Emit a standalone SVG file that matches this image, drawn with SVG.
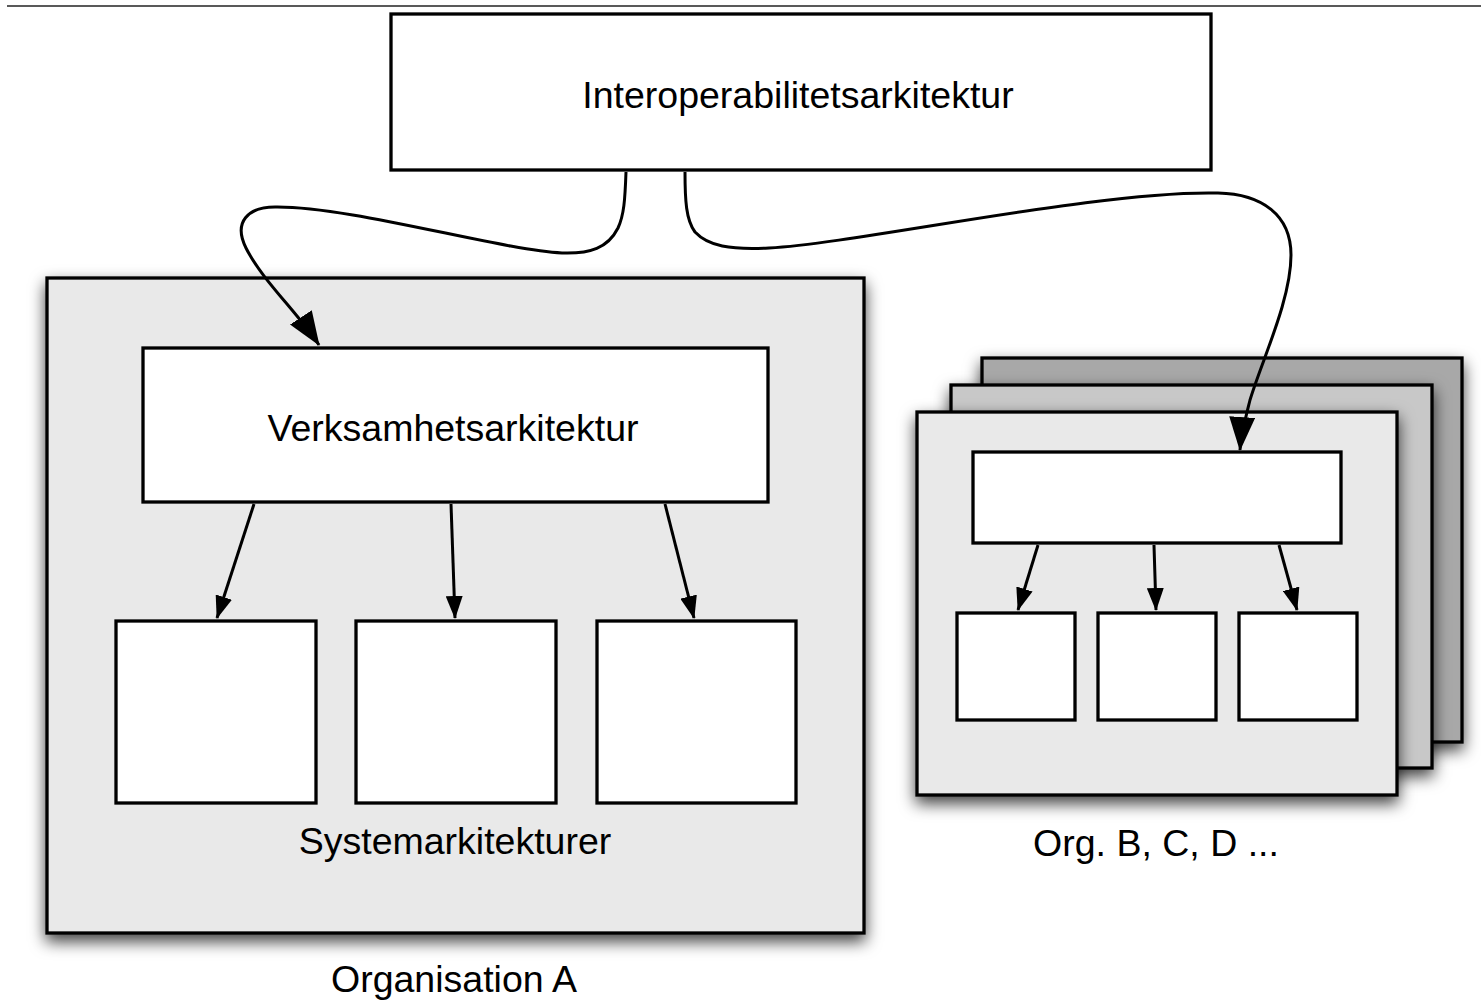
<svg xmlns="http://www.w3.org/2000/svg" width="1481" height="1000" viewBox="0 0 1481 1000">
<style>
.box{stroke:#000;stroke-width:3.3;}
.white{fill:#fff;}
.panel{fill:#e9e9e9;}
.lbl{font-family:"Liberation Sans",Arial,sans-serif;font-size:37.5px;fill:#000;text-anchor:middle;}
.conn{fill:none;stroke:#000;stroke-width:3;}
</style>
<defs>
<filter id="sh" x="-10%" y="-10%" width="125%" height="135%">
<feDropShadow dx="0" dy="7" stdDeviation="8" flood-color="#000" flood-opacity="0.75"/>
</filter>
<marker id="big" viewBox="0 0 34 26" refX="33" refY="13" markerWidth="34" markerHeight="26" markerUnits="userSpaceOnUse" orient="auto">
<path d="M0,0 L34,13 L0,26 z" fill="#000"/>
</marker>
<marker id="sm" viewBox="0 0 23 17" refX="22" refY="8.5" markerWidth="23" markerHeight="17" markerUnits="userSpaceOnUse" orient="auto">
<path d="M0,0 L23,8.5 L0,17 z" fill="#000"/>
</marker>
</defs>
<rect width="1481" height="1000" fill="#fff"/>
<line x1="7" y1="6" x2="1481" y2="6" stroke="#222" stroke-width="1.5"/>

<g id="interop">
<rect class="box white" x="391" y="14" width="820" height="156"/>
<text class="lbl" x="798" y="108">Interoperabilitetsarkitektur</text>
</g>

<g id="orgA">
<rect class="box panel" x="47" y="278" width="817" height="655" filter="url(#sh)"/>
<text class="lbl" x="454" y="992">Organisation A</text>
</g>
<g id="verksamhet">
<rect class="box white" x="143" y="348" width="625" height="154"/>
<text class="lbl" x="453" y="441">Verksamhetsarkitektur</text>
</g>
<g id="sysA1"><rect class="box white" x="116" y="621" width="200" height="182"/></g>
<g id="sysA2"><rect class="box white" x="356" y="621" width="200" height="182"/></g>
<g id="sysA3"><rect class="box white" x="597" y="621" width="199" height="182"/></g>
<g id="systemLabel"><text class="lbl" x="455" y="854">Systemarkitekturer</text></g>

<g id="orgB">
<rect class="box" x="982" y="358" width="480" height="384" fill="#a8a8a8" filter="url(#sh)"/>
<rect class="box" x="951" y="385" width="481" height="383" fill="#c8c8c8" filter="url(#sh)"/>
<rect class="box panel" x="917" y="412" width="480" height="383" filter="url(#sh)"/>
<text class="lbl" x="1156" y="856">Org. B, C, D ...</text>
</g>
<g id="orgB-top"><rect class="box white" x="973" y="452" width="368" height="91"/></g>
<g id="orgB-s1"><rect class="box white" x="957" y="613" width="118" height="107"/></g>
<g id="orgB-s2"><rect class="box white" x="1098" y="613" width="118" height="107"/></g>
<g id="orgB-s3"><rect class="box white" x="1239" y="613" width="118" height="107"/></g>

<g id="connectors">
<path class="conn" marker-end="url(#big)" d="M626,172 C625,200 624,215 618,228 C608,248 590,254 562,253 C500,250 350,206 275,207 C248,207 233,222 246,248 C262,280 298,313 319,345"/>
<path class="conn" marker-end="url(#big)" d="M685,172 C685,200 686,220 695,232 C708,246 730,250 769,248 C860,243 1100,190 1218,193 C1262,194 1291,215 1291,255 C1291,300 1262,360 1250,400 C1245,420 1241,435 1240,450"/>
<line class="conn" marker-end="url(#sm)" x1="254" y1="504" x2="217" y2="618"/>
<line class="conn" marker-end="url(#sm)" x1="451" y1="504" x2="455" y2="618"/>
<line class="conn" marker-end="url(#sm)" x1="665" y1="504" x2="694" y2="618"/>
<line class="conn" marker-end="url(#sm)" x1="1038" y1="545" x2="1018" y2="610"/>
<line class="conn" marker-end="url(#sm)" x1="1154" y1="545" x2="1156" y2="610"/>
<line class="conn" marker-end="url(#sm)" x1="1279" y1="545" x2="1297" y2="610"/>
</g>
</svg>
